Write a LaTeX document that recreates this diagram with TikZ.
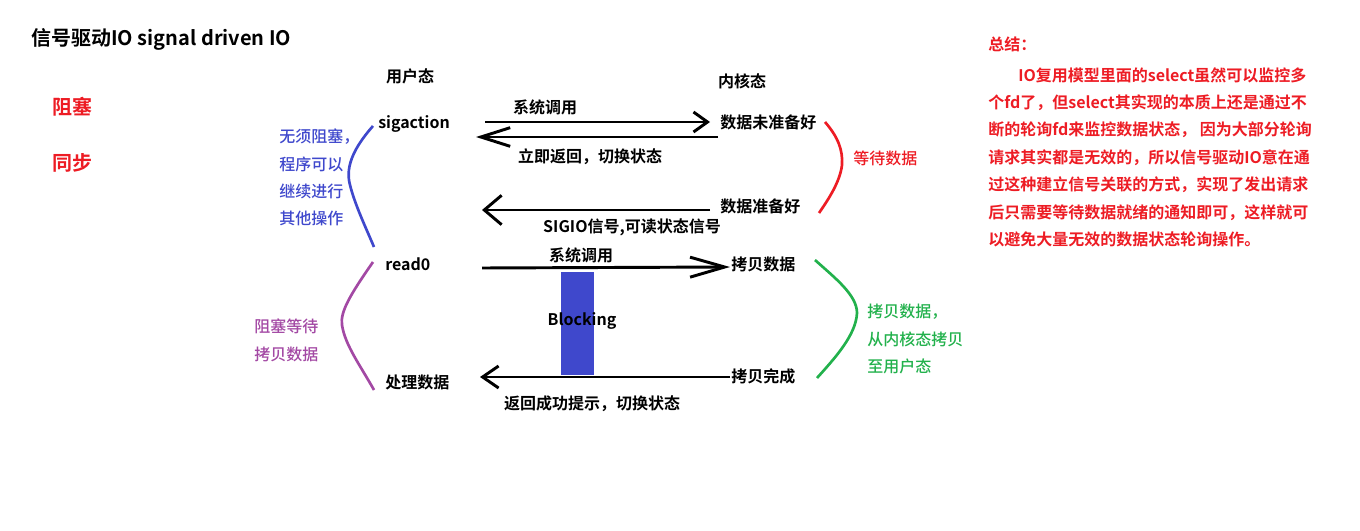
\documentclass[tikz,border=0pt]{standalone}
\usepackage{fontspec}
\setmainfont{Noto Sans CJK SC}[BoldFont={* Bold}]
\newfontfamily\notefont{Noto Sans CJK SC Medium}
\usetikzlibrary{arrows.meta,calc}

\definecolor{sumred}{RGB}{237,28,36}
\definecolor{waitblue}{RGB}{63,72,204}
\definecolor{blockpurple}{RGB}{163,73,164}
\definecolor{copygreen}{RGB}{34,177,76}

\begin{document}
\begin{tikzpicture}[x=0.75pt,y=-0.75pt,
  lbl/.style={font=\bfseries\fontsize{12}{14}\selectfont,inner sep=0pt,
              text height=0.88em,text depth=0.12em},
  big/.style={font=\bfseries\fontsize{15}{18}\selectfont,inner sep=0pt,
              text height=0.88em,text depth=0.12em},
  side/.style={font=\notefont\fontsize{12}{20.6}\selectfont,inner sep=0pt,
               anchor=north west,align=left},
  arr/.style={line width=2.2pt},
  bracecurve/.style={line width=2pt},
]
\useasboundingbox (0,0) rectangle (1360,531);

% Title
\node[big,anchor=west] (title) at (31,40) {信号驱动IO signal driven IO};
\node[big,anchor=west,text=sumred] (blk) at (52,109) {阻塞};
\node[big,anchor=west,text=sumred] (syn) at (52,165) {同步};

% Column headers
\node[lbl] (user) at (410,77) {用户态};
\node[lbl] (kern) at (742,82) {内核态};

% User side
\node[lbl,anchor=west] (sig) at (378,123) {sigaction};
\node[lbl,anchor=west] (rd) at (385,265) {read0};
\node[lbl,anchor=west] (proc) at (385,383) {处理数据};

% Kernel side
\node[lbl,anchor=west] (nwr) at (720,123) {数据未准备好};
\node[lbl,anchor=west] (rdy) at (720,207) {数据准备好};
\node[lbl,anchor=west] (cpy) at (731,265) {拷贝数据};
\node[lbl,anchor=west] (done) at (731,377) {拷贝完成};

% Arrows between the two sides
\draw[arr,-{Straight Barb[length=10.5pt,width=15pt]}]
  ($(sig.west)+(107,-1)$) -- ($(nwr.west)+(-10,-1)$);
\draw[arr,-{Straight Barb[length=22pt,width=14pt]}]
  ($(nwr.west)+(-2,14)$) -- ($(sig.west)+(98,14)$);
\draw[arr,-{Straight Barb[length=13pt,width=22pt]}]
  ($(rdy.west)+(-10,3)$) -- ($(rd.west)+(97,-55)$);
\draw[arr,-{Straight Barb[length=26pt,width=15pt]}]
  ($(rd.west)+(97,3)$) -- ($(cpy.west)+(-1,2)$);
\draw[arr,-{Straight Barb[length=12pt,width=16.5pt]}]
  ($(done.west)+(-1,0)$) -- ($(proc.west)+(95,-6)$);

% Arrow labels
\node[lbl] (call1) at (545,108) {系统调用};
\node[lbl] (ret1) at (590,157) {立即返回，切换状态};
\node[lbl] (sigio) at (632,227) {SIGIO信号,可读状态信号};
\node[lbl] (call2) at (581,256) {系统调用};
\node[lbl] (ret2) at (592,404) {返回成功提示，切换状态};

% Blocking bar
\fill[waitblue] (561,272) rectangle (594,375);
\node[lbl] (blocking) at (582,320) {Blocking};

% Side braces
\draw[bracecurve,waitblue] (373,126) .. controls (350,152) and (346,170) .. (350,185)
  .. controls (355,205) and (366,228) .. (374,247);
\draw[bracecurve,blockpurple] (373,262) .. controls (350,295) and (340,312) .. (342,325)
  .. controls (345,345) and (360,365) .. (374,390);
\draw[bracecurve,sumred] (825,122) .. controls (838,137) and (843,150) .. (842,165)
  .. controls (840,182) and (828,200) .. (819,213);
\draw[bracecurve,copygreen] (815,260) .. controls (835,278) and (857,295) .. (857,313)
  .. controls (856,335) and (835,358) .. (817,378);

% Brace notes
\node[side,text=waitblue,font=\notefont\fontsize{12}{20.5}\selectfont] (nowait) at (279,129)
  {无须阻塞，\\程序可以\\继续进行\\其他操作};
\node[side,text=blockpurple,font=\notefont\fontsize{12}{21}\selectfont] (waitcopy) at (254,319)
  {阻塞等待\\拷贝数据};
\node[lbl,anchor=west,font=\notefont\fontsize{12}{14}\selectfont,text=sumred] (waitdata) at (853,159) {等待数据};
\node[side,text=copygreen] (copynote) at (867,304)
  {拷贝数据，\\从内核态拷贝\\至用户态};

% Summary
\node[lbl,anchor=west,text=sumred] (sumtitle) at (988,45) {总结：};
\node[side,text=sumred,font=\bfseries\fontsize{12}{20.6}\selectfont] (summary) at (988,67)
  {\hspace*{22.5pt}IO复用模型里面的select虽然可以监控多\\
   个fd了，但select其实现的本质上还是通过不\\
   断的轮询fd来监控数据状态， 因为大部分轮询\\
   请求其实都是无效的，所以信号驱动IO意在通\\
   过这种建立信号关联的方式，实现了发出请求\\
   后只需要等待数据就绪的通知即可，这样就可\\
   以避免大量无效的数据状态轮询操作。};

\end{tikzpicture}
\end{document}
